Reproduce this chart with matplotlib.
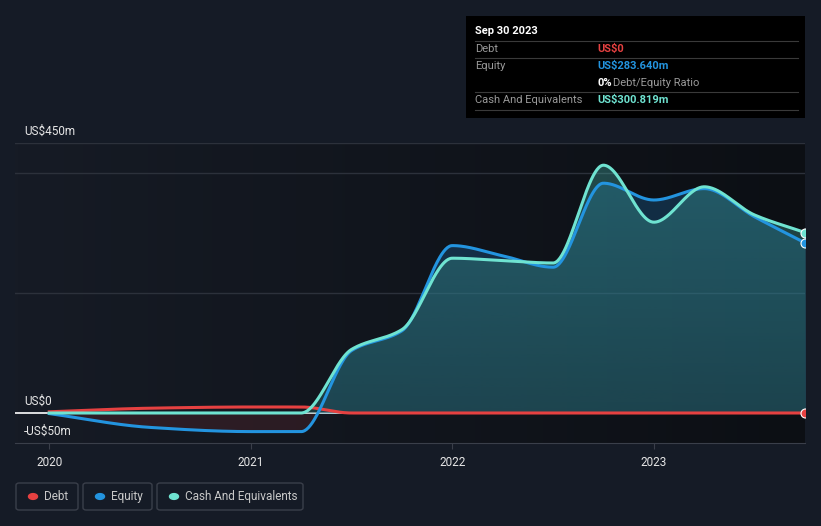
import numpy as np
import matplotlib
matplotlib.use("Agg")
import matplotlib.pyplot as plt
from matplotlib.patches import Rectangle, FancyBboxPatch
from matplotlib.lines import Line2D

plt.rcParams['font.family'] = ['Roboto', 'DejaVu Sans']

# data (US$ millions, dates as decimal years)
dates = [2020.0, 2020.5, 2021.0, 2021.25, 2021.5, 2021.75, 2022.0, 2022.25,
         2022.5, 2022.75, 2023.0, 2023.25, 2023.5, 2023.75]
debt = [2, 8, 10, 10, 0, 0, 0, 0, 0, 0, 0, 0, 0, 0]
equity = [-1, -24, -31, -31, 104, 137, 279, 262, 243, 383, 355, 374, 327, 283.64]
cash = [0, 0, 0, 0, 106, 139, 258, 254, 250, 413, 318, 377, 330, 300.819]

x_ticks = [2020, 2021, 2022, 2023]
tooltip_rows = [("Debt", "US$0"), ("Equity", "US$283.640m"),
                ("Cash And Equivalents", "US$300.819m")]

BG = '#151b26'
RED = '#e64141'
BLUE = '#2394df'
TEAL = '#6fe3d1'

W, H = 821, 526


def fx(px):
    return px / W


def fy(py):
    return 1 - py / H


def pchip(x, y, xs):
    # monotone cubic (Fritsch-Carlson) interpolation
    x = np.asarray(x, float)
    y = np.asarray(y, float)
    h = np.diff(x)
    d = np.diff(y) / h
    m = np.zeros_like(y)
    m[0], m[-1] = d[0], d[-1]
    for k in range(1, len(y) - 1):
        if d[k - 1] * d[k] <= 0:
            m[k] = 0
        else:
            w1 = 2 * h[k] + h[k - 1]
            w2 = h[k] + 2 * h[k - 1]
            m[k] = (w1 + w2) / (w1 / d[k - 1] + w2 / d[k])
    idx = np.clip(np.searchsorted(x, xs) - 1, 0, len(x) - 2)
    t = (xs - x[idx]) / h[idx]
    h00 = 2 * t**3 - 3 * t**2 + 1
    h10 = t**3 - 2 * t**2 + t
    h01 = -2 * t**3 + 3 * t**2
    h11 = t**3 - t**2
    return h00 * y[idx] + h10 * h[idx] * m[idx] + h01 * y[idx + 1] + h11 * h[idx] * m[idx + 1]


xs = np.linspace(dates[0], dates[-1], 800)
debt_s = pchip(dates, debt, xs)
eq_s = pchip(dates, equity, xs)
cash_s = pchip(dates, cash, xs)

fig = plt.figure(figsize=(W / 100, H / 100), dpi=100, facecolor=BG)
ax = fig.add_axes([fx(15), fy(443), fx(805) - fx(15), fy(143) - fy(443)])
ax.set_facecolor(BG)
ax.set_xlim(2019.83, 2023.75)
ax.set_ylim(-50, 450)

# horizontal background gradient, lighter on the left
left = np.array([22, 27, 37]) / 255
right = np.array([12, 15, 20]) / 255
bg = np.linspace(0, 1, 256)[None, :, None] * (right - left) + left
ax.imshow(bg, extent=[2019.83, 2023.75, -50, 450], aspect='auto', zorder=0)

for g in [200, 400, 450]:
    ax.axhline(g, color='#2c313b', lw=1, zorder=1)
ax.axhline(0, color='white', lw=1.2, zorder=1)

# area fills
ax.fill_between(xs, eq_s, 0, where=eq_s < 0, color=RED, alpha=0.12, lw=0, zorder=2)
ax.fill_between(xs, 0, np.maximum(eq_s, 0), color='#1e6fae', alpha=0.3, lw=0, zorder=2)
poly_c = ax.fill_between(xs, 0, cash_s, color='#4fd1c5', alpha=0.3, lw=0, zorder=2)
grad = np.zeros((100, 1, 4))
grad[..., 0:3] = np.array([15, 19, 26]) / 255
grad[:, 0, 3] = np.linspace(0.0, 0.35, 100)
im = ax.imshow(grad, extent=[2020, 2023.75, 0, 450], aspect='auto',
               origin='upper', zorder=2.5)
im.set_clip_path(poly_c.get_paths()[0], transform=ax.transData)
ax.set_xlim(2019.83, 2023.75)
ax.set_ylim(-50, 450)

ax.plot(xs, debt_s, color=RED, lw=2.2, zorder=4)
ax.plot(xs, eq_s, color=BLUE, lw=2.2, zorder=5)
ax.plot(xs, cash_s, color=TEAL, lw=2.2, zorder=6)
for v, c in [(debt[-1], RED), (equity[-1], BLUE), (cash[-1], TEAL)]:
    ax.plot(dates[-1], v, 'o', color=c, ms=6.5, mec='white', mew=0.8, zorder=7)

for s in ['top', 'right', 'left']:
    ax.spines[s].set_visible(False)
ax.spines['bottom'].set_color('#3a3f4a')
ax.set_yticks([])
ax.set_xticks(x_ticks)
ax.set_xticklabels([str(t) for t in x_ticks], color='#e6e6e6', fontsize=8.5)
ax.tick_params(axis='x', length=4, color='#3a3f4a', pad=5)

ylab = dict(color='#e6e6e6', fontsize=8.5, ha='left', va='center')
fig.text(fx(24), fy(131), "US$450m", **ylab)
fig.text(fx(24), fy(401), "US$0", **ylab)
fig.text(fx(24), fy(431), "-US$50m", **ylab)

# tooltip box
fig.patches.append(Rectangle((fx(466), fy(118)), fx(805) - fx(466), fy(16) - fy(118),
                             transform=fig.transFigure, facecolor='black', lw=0))
fig.text(fx(475), fy(31), "Sep 30 2023", color='white', fontsize=8, fontweight='bold', va='center')
for ly in [41, 58, 92, 110]:
    fig.lines.append(Line2D([fx(475), fx(798)], [fy(ly), fy(ly)], transform=fig.transFigure,
                            color='#3a3a3a', lw=0.8))
row_y = [49, 66, 100]
row_c = [RED, BLUE, TEAL]
for (lab, val), yy, c in zip(tooltip_rows, row_y, row_c):
    fig.text(fx(475), fy(yy), lab, color='#9a9a9a', fontsize=8, va='center')
    fig.text(fx(597), fy(yy), val, color=c, fontsize=8, fontweight='bold', va='center')
fig.text(fx(597), fy(83), "0%", color='white', fontsize=8, fontweight='bold', va='center')
fig.text(fx(613), fy(83), "Debt/Equity Ratio", color='#9a9a9a', fontsize=8, va='center')

# legend boxes
legend_items = [("Debt", RED, 16, 78), ("Equity", BLUE, 83, 152), ("Cash And Equivalents", TEAL, 157, 303)]
for lab, c, x0, x1 in legend_items:
    fig.patches.append(FancyBboxPatch((fx(x0), fy(510)), fx(x1) - fx(x0), fy(483) - fy(510),
                                      boxstyle="round,pad=0,rounding_size=0.004",
                                      transform=fig.transFigure, facecolor='none',
                                      edgecolor='#3a3f4a', lw=1))
    fig.patches.append(plt.Circle((fx(x0 + 17), fy(496.5)), 4.5 / W, color=c,
                                  transform=fig.transFigure))
    fig.text(fx(x0 + 28), fy(496.5), lab, color='#c8c8c8', fontsize=8.5, va='center')

fig.savefig("out.png", dpi=100, facecolor=BG)
